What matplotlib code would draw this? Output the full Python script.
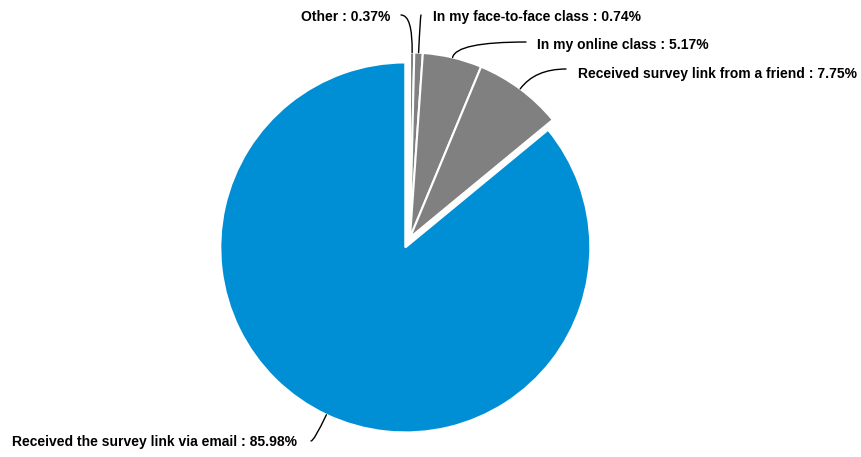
import numpy as np
import matplotlib
matplotlib.use("Agg")
import matplotlib.pyplot as plt

plt.rcParams["font.family"] = ["Liberation Sans", "DejaVu Sans"]

# order: clockwise from 12 o'clock
labels = [
    "Other",
    "In my face-to-face class",
    "In my online class",
    "Received survey link from a friend",
    "Received the survey link via email",
]
shares = [0.37, 0.74, 5.17, 7.75, 85.98]
colors = ["#808080", "#808080", "#808080", "#808080", "#008fd5"]

W, H = 861, 457
fig = plt.figure(figsize=(W / 100, H / 100), dpi=100)
ax = fig.add_axes([0, 0, 1, 1])

cx, cy, R = 410, H - 237.5, 185
# explode is in data units here (px), blue slice pulled out
explode = [0, 0, 0, 0, 11]
wedges, _ = ax.pie(shares, colors=colors, explode=explode, startangle=90,
                   counterclock=False, radius=R, center=(cx, cy), frame=True,
                   wedgeprops=dict(edgecolor="white", linewidth=1.5))
ax.set_xlim(0, W)
ax.set_ylim(0, H)
ax.axis("off")

# label text position (screen px), alignment, connector end (screen px)
label_pos = [
    (390, 17, "right", (401, 15)),
    (433, 17, "left", (421, 15)),
    (537, 45, "left", (526, 42)),
    (578, 74, "left", (566, 69)),
    (297, 442, "right", (311, 441)),
]

for w, lab, val, (tx, ty, ha, (lx, ly)) in zip(wedges, labels, shares, label_pos):
    mid = np.deg2rad((w.theta1 + w.theta2) / 2)
    wx, wy = w.center
    px = wx + w.r * np.cos(mid)
    py = wy + w.r * np.sin(mid)
    ang = np.rad2deg(mid)
    ax.annotate("", xy=(px, py), xytext=(lx, H - ly),
                arrowprops=dict(arrowstyle="-", color="black", lw=1,
                                shrinkA=0, shrinkB=0,
                                connectionstyle=f"angle3,angleA=0,angleB={ang:.1f}"))
    ax.text(tx, H - ty, f"{lab} : {val:.2f}%", ha=ha, va="center",
            fontsize=10, fontweight="bold", color="black")

fig.savefig("out.png", dpi=100)
